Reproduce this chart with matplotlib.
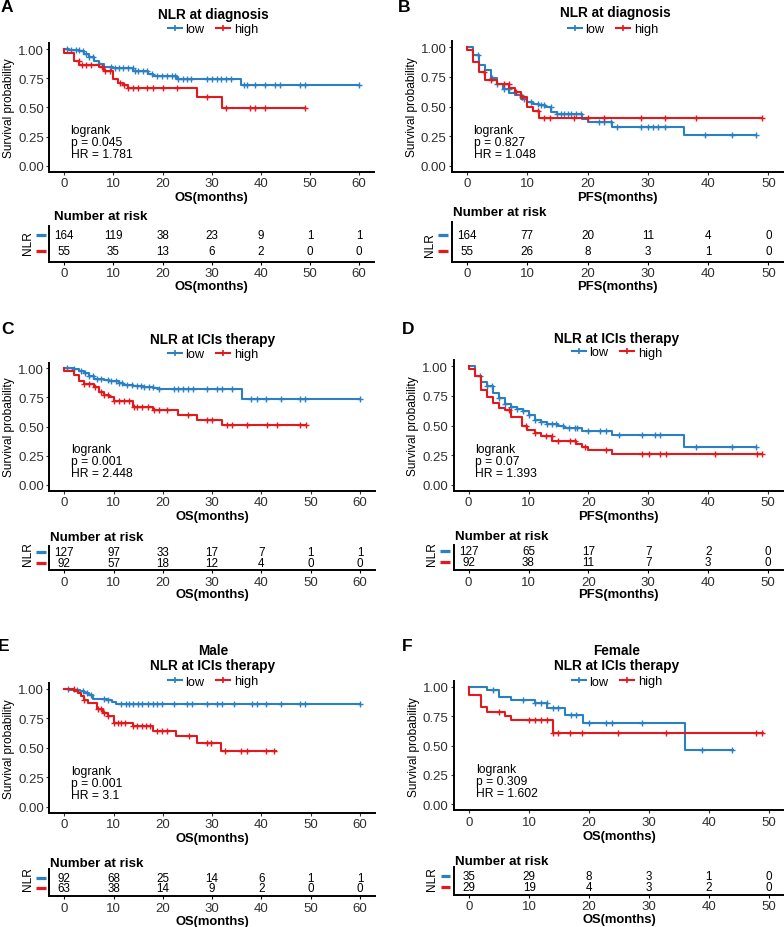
import numpy as np
import matplotlib
matplotlib.use("Agg")
from matplotlib import pyplot as plt
from matplotlib.lines import Line2D

plt.rcParams.update({'font.family': ['Liberation Sans', 'DejaVu Sans'],
                     'font.size': 9,
                     'axes.linewidth': 1.4})

BLUE = '#2b80c3'
RED = '#e4191d'

# ---------------- data ----------------
# A: OS, NLR at diagnosis
A_low_t = [0, 1, 3, 4, 5, 6, 7, 8, 10, 14, 17, 18, 23, 36]
A_low_s = [1.0, 0.99, 0.98, 0.96, 0.93, 0.90, 0.87, 0.85, 0.84, 0.81, 0.79, 0.77, 0.74, 0.69]
A_low_end = 60
A_low_cens = [0.5, 1.4, 2.4, 2.9, 3.9, 4.4, 5.1, 5.8, 7.1, 9.6, 10.3, 11.2, 12.0, 12.9, 13.9,
              14.4, 15.1, 16.0, 16.9, 17.9, 18.9, 19.9, 20.8, 21.9, 22.5, 23.1, 24.1, 24.9,
              25.8, 29.0, 30.0, 31.0, 31.9, 32.9, 33.9, 36.5, 37.2, 38.8, 40.9, 42.9, 43.8,
              47.9, 48.9, 60]
A_high_t = [0, 0, 2, 3, 7, 8, 10, 11, 12, 13, 27, 32]
A_high_s = [1.0, 0.97, 0.90, 0.86, 0.85, 0.81, 0.74, 0.71, 0.69, 0.665, 0.59, 0.495]
A_high_end = 49
A_high_cens = [2.9, 3.7, 4.5, 5.4, 7.6, 8.3, 9.3, 11.3, 12.2, 13.0, 13.9, 14.9, 16.9, 18.0,
               20.0, 22.9, 29.0, 32.9, 37.8, 38.8, 40.9, 49]
A_low_risk = [164, 119, 38, 23, 9, 1, 1]
A_high_risk = [55, 35, 13, 6, 2, 0, 0]

# B: PFS, NLR at diagnosis
B_low_t = [0, 1, 2, 3, 4, 5, 6, 7, 8, 9, 10, 11, 12, 13, 14, 15, 19, 20, 24, 36]
B_low_s = [1.0, 0.935, 0.85, 0.81, 0.745, 0.69, 0.65, 0.615, 0.60, 0.565, 0.54, 0.52, 0.51,
           0.50, 0.45, 0.44, 0.395, 0.37, 0.325, 0.26]
B_low_end = 48
B_low_cens = [1.8, 4.1, 5.0, 6.1, 6.9, 8.9, 9.4, 10.6, 11.7, 12.2, 12.8, 13.9, 15.0, 15.6,
              16.1, 16.7, 17.2, 18.1, 18.9, 21.9, 22.8, 23.9, 24.9, 28.9, 30.0, 30.8, 31.7,
              32.8, 39.4, 44.0, 48]
B_high_t = [0, 0, 1, 2, 3, 5, 7, 8, 9, 10, 11, 12]
B_high_s = [1.0, 0.98, 0.88, 0.79, 0.72, 0.69, 0.66, 0.62, 0.58, 0.50, 0.46, 0.405]
B_high_end = 49
B_high_cens = [2.8, 3.9, 6.1, 6.9, 8.1, 9.1, 11.7, 12.8, 13.8, 17.8, 20.0, 22.8, 28.8, 32.9,
               37.9, 49]
B_low_risk = [164, 77, 20, 11, 4, 0]
B_high_risk = [55, 26, 8, 3, 1, 0]

# C: OS, NLR at ICIs therapy
C_low_t = [0, 2, 3, 4, 5, 6, 8, 9, 11, 12, 14, 16, 18, 19, 36]
C_low_s = [1.0, 0.99, 0.98, 0.96, 0.93, 0.91, 0.90, 0.89, 0.87, 0.86, 0.85, 0.84, 0.83, 0.82, 0.74]
C_low_end = 60
C_low_cens = [0.5, 2.0, 3.4, 4.2, 5.1, 5.9, 6.7, 7.4, 8.8, 9.4, 10.4, 11.1, 11.8, 12.7, 13.8,
              14.8, 15.5, 16.2, 17.2, 17.9, 19.2, 22.3, 23.1, 24.1, 25.2, 26.2, 29.0, 31.0,
              32.0, 34.0, 37.9, 39.0, 41.0, 44.0, 47.9, 48.9, 60]
C_high_t = [0, 0, 2, 3, 4, 6, 7, 8, 9, 10, 14, 18, 23, 27, 32]
C_high_s = [1.0, 0.98, 0.94, 0.895, 0.865, 0.84, 0.80, 0.77, 0.75, 0.72, 0.665, 0.64, 0.60,
            0.56, 0.51]
C_high_end = 49
C_high_cens = [4.0, 5.1, 6.2, 7.4, 8.1, 8.9, 10.1, 11.1, 12.1, 13.1, 14.2, 14.8, 15.8, 16.9,
               18.2, 19.2, 20.9, 25.1, 29.0, 30.0, 33.0, 34.0, 37.0, 41.2, 43.1, 47.9, 49]
C_low_risk = [127, 97, 33, 17, 7, 1, 1]
C_high_risk = [92, 57, 18, 12, 4, 0, 0]

# D: PFS, NLR at ICIs therapy
D_low_t = [0, 1, 2, 3, 4, 5, 6, 7, 8, 9, 10, 11, 12, 13, 15, 16, 19, 24, 36]
D_low_s = [1.0, 0.92, 0.865, 0.83, 0.775, 0.73, 0.68, 0.66, 0.64, 0.62, 0.585, 0.55, 0.53,
           0.515, 0.50, 0.48, 0.455, 0.42, 0.315]
D_low_end = 48
D_low_cens = [1.9, 3.1, 3.9, 5.1, 6.0, 7.0, 8.1, 9.1, 10.1, 11.1, 12.1, 13.1, 13.9, 14.6,
              15.7, 16.7, 17.7, 18.1, 20.0, 22.0, 23.0, 25.1, 29.0, 31.2, 32.0, 38.0, 44.0, 48]
D_high_t = [0, 0, 1, 2, 3, 4, 5, 6, 7, 8.9, 9.7, 11, 12, 14, 18, 19, 20, 24]
D_high_s = [1.0, 0.98, 0.915, 0.80, 0.74, 0.69, 0.65, 0.63, 0.57, 0.50, 0.465, 0.44, 0.415,
            0.37, 0.345, 0.315, 0.29, 0.26]
D_high_end = 49
D_high_cens = [6.8, 9.5, 11.0, 12.9, 13.9, 14.9, 17.0, 17.8, 19.4, 22.9, 29.0, 30.1, 32.0,
               33.0, 41.1, 48.1, 49]
D_low_risk = [127, 65, 17, 7, 2, 0]
D_high_risk = [92, 38, 11, 7, 3, 0]

# E: OS, male
E_low_t = [0, 1, 3.2, 4, 5.1, 5.9, 8.6, 9.6, 10.5]
E_low_s = [1.0, 0.99, 0.98, 0.963, 0.945, 0.91, 0.90, 0.89, 0.868]
E_low_end = 60
E_low_cens = [0.7, 2.6, 3.7, 4.7, 5.4, 8.1, 8.9, 11.5, 12.5, 13.2, 14.0, 15.0, 15.8, 16.9,
              17.9, 18.9, 19.9, 22.2, 24.9, 25.9, 29.0, 31.0, 32.0, 34.4, 38.1, 39.2, 41.0,
              44.0, 47.9, 48.9, 60]
E_high_t = [0, 2, 2.8, 3.4, 3.9, 4.9, 6.7, 7.8, 8.8, 10, 14, 17.9, 22.7, 27, 31.8]
E_high_s = [1.0, 0.98, 0.96, 0.935, 0.90, 0.875, 0.83, 0.79, 0.765, 0.705, 0.685, 0.645,
            0.595, 0.54, 0.47]
E_high_end = 43
E_high_cens = [1.9, 3.9, 6.9, 7.4, 8.1, 8.9, 10.0, 10.8, 11.5, 12.3, 14.0, 14.8, 15.7, 16.6,
               17.4, 18.9, 19.9, 20.9, 25.3, 29.0, 29.7, 32.7, 35.9, 37.0, 41.0, 42.6]
E_low_risk = [92, 68, 25, 14, 6, 1, 1]
E_high_risk = [63, 38, 14, 9, 2, 0, 0]

# F: OS, female
F_low_t = [0, 3, 5, 7, 11, 13, 16, 19, 36]
F_low_s = [1.0, 0.975, 0.915, 0.89, 0.86, 0.82, 0.765, 0.69, 0.46]
F_low_end = 44
F_low_cens = [4.0, 9.0, 11.0, 11.9, 12.9, 14.0, 14.9, 17.0, 17.9, 20.0, 22.9, 23.8, 28.8,
              38.9, 43.9]
F_high_t = [0, 0, 2, 3, 6, 7, 14]
F_high_s = [1.0, 0.93, 0.83, 0.79, 0.755, 0.72, 0.61]
F_high_end = 49
F_high_cens = [5.0, 9.9, 10.9, 11.9, 12.9, 14.0, 14.8, 16.9, 18.9, 24.9, 32.9, 47.9, 48.9]
F_low_risk = [35, 29, 8, 3, 1, 0]
F_high_risk = [29, 19, 4, 3, 2, 0]

panel_letters = ['A', 'B', 'C', 'D', 'E', 'F']
titles = ['NLR at diagnosis', 'NLR at diagnosis', 'NLR at ICIs therapy',
          'NLR at ICIs therapy', 'Male\nNLR at ICIs therapy', 'Female\nNLR at ICIs therapy']
xlabels = ['OS(months)', 'PFS(months)', 'OS(months)', 'PFS(months)', 'OS(months)', 'OS(months)']
xmax = [60, 50, 60, 50, 60, 50]
pvals = ['0.045', '0.827', '0.001', '0.07', '0.001', '0.309']
hrs = ['1.781', '1.048', '2.448', '1.393', '3.1', '1.602']

curves = {
    'A': [(A_low_t, A_low_s, A_low_end, A_low_cens), (A_high_t, A_high_s, A_high_end, A_high_cens)],
    'B': [(B_low_t, B_low_s, B_low_end, B_low_cens), (B_high_t, B_high_s, B_high_end, B_high_cens)],
    'C': [(C_low_t, C_low_s, C_low_end, C_low_cens), (C_high_t, C_high_s, C_high_end, C_high_cens)],
    'D': [(D_low_t, D_low_s, D_low_end, D_low_cens), (D_high_t, D_high_s, D_high_end, D_high_cens)],
    'E': [(E_low_t, E_low_s, E_low_end, E_low_cens), (E_high_t, E_high_s, E_high_end, E_high_cens)],
    'F': [(F_low_t, F_low_s, F_low_end, F_low_cens), (F_high_t, F_high_s, F_high_end, F_high_cens)],
}
risks = {'A': (A_low_risk, A_high_risk), 'B': (B_low_risk, B_high_risk),
         'C': (C_low_risk, C_high_risk), 'D': (D_low_risk, D_high_risk),
         'E': (E_low_risk, E_high_risk), 'F': (F_low_risk, F_high_risk)}

# ---------------- layout (pixels) ----------------
W, H = 784, 928
# main axes: left, top, right, bottom
main_box = [(49.5, 44.2, 374, 172.5), (452, 42.4, 783.5, 172.6),
            (49.5, 363.5, 374.8, 491.5), (453.7, 361.4, 783, 491.6),
            (49.5, 683.8, 374.8, 813.5), (454.3, 682.1, 783.6, 811.2)]
# risk table: top, bottom, ylim
table_box = [(226.7, 262.7, (0.30, 2.59)), (223, 262.7, (0.33, 2.81)),
             (547.3, 571, (0.38, 2.48)), (546, 571, (0.34, 2.49)),
             (870, 897.3, (0.22, 2.87)), (868, 895.7, (0.36, 2.75))]
letter_pos = [(7, 8), (404, 8), (7, 329), (408, 330), (4, 647), (407, 647)]
title_pos = [(213, 15), (615, 13.5), (213, 340), (617, 339), (213, 658.5), (617, 658.5)]
legend_pos = [(213, 30), (613, 30), (213, 355), (617, 353.5), (213, 682.5), (617, 682.5)]
nrisk_pos = [(54, 217.3), (453, 213.3), (50, 538.3), (454.7, 537), (50, 864), (454.7, 861.7)]
nlr_pos = [(28.5, 243), (429.5, 245), (28.5, 554), (431.5, 554), (28.5, 879), (432, 879)]


def px_axes(l, t, r, b):
    return fig.add_axes([l / W, 1 - b / H, (r - l) / W, (b - t) / H])


def ftext(x, y, s, **kw):
    fig.text(x / W, 1 - y / H, s, **kw)


fig = plt.figure(figsize=(W / 100, H / 100), dpi=100)

for i, key in enumerate(panel_letters):
    xm = xmax[i]
    ticks = np.arange(0, xm + 1, 10)

    # ---- survival curves ----
    ax = px_axes(*main_box[i])
    for (t, s, end, cens), col in zip(curves[key], [BLUE, RED]):
        x = list(t) + [end]
        y = list(s) + [s[-1]]
        ax.step(x, y, where='post', color=col, lw=1.5)
        c = np.array(cens)
        idx = np.searchsorted(np.array(t), c, side='right') - 1
        ax.plot(c, np.array(s)[idx], ls='none', marker='+', ms=5, mew=1.0, color=col)
    ax.set_xlim(-0.05 * xm, 1.05 * xm)
    ax.set_ylim(-0.05, 1.05)
    ax.set_xticks(ticks)
    ax.set_yticks([0, 0.25, 0.5, 0.75, 1.0])
    ax.set_yticklabels(['0.00', '0.25', '0.50', '0.75', '1.00'])
    for side in ['top', 'right']:
        ax.spines[side].set_visible(False)
    ax.tick_params(length=2.5, width=0.8, pad=1.5, labelsize=9.5, colors='#333333',
                   labelcolor='#303030')
    ax.set_xlabel(xlabels[i], fontsize=9.4, fontweight='bold', labelpad=1.5)
    ax.set_ylabel('Survival probability', fontsize=8.6, labelpad=2)
    ax.text(0.065, 0.2, 'logrank\np = %s\nHR = %s' % (pvals[i], hrs[i]),
            transform=ax.get_yaxis_transform(), fontsize=8.7, va='center', ha='left',
            linespacing=1.0)

    # ---- risk table ----
    tt, tb, yl = table_box[i]
    l, _, r, _ = main_box[i]
    rax = px_axes(l, tt, r, tb)
    low, high = risks[key]
    for xv, n in zip(ticks, low):
        rax.text(xv, 2, str(n), ha='center', va='center', fontsize=8.4)
    for xv, n in zip(ticks, high):
        rax.text(xv, 1, str(n), ha='center', va='center', fontsize=8.4)
    rax.set_xlim(-0.05 * xm, 1.05 * xm)
    rax.set_ylim(*yl)
    rax.set_xticks(ticks)
    rax.set_yticks([])
    for side in ['top', 'right']:
        rax.spines[side].set_visible(False)
    rax.tick_params(length=2.5, width=0.8, pad=1.5, labelsize=9.5, labelcolor='#303030')
    rax.set_xlabel(xlabels[i], fontsize=9.4, fontweight='bold', labelpad=0.5)
    for yv, col in [(2, BLUE), (1, RED)]:
        rax.plot([-0.041, -0.012], [yv, yv], transform=rax.get_yaxis_transform(),
                 color=col, lw=2.3, clip_on=False, solid_capstyle='butt')

    # ---- figure texts ----
    ftext(*letter_pos[i], key, fontsize=12.5, fontweight='bold', ha='center', va='center')
    ftext(*title_pos[i], titles[i], fontsize=9.8, fontweight='bold', ha='center',
          va='center', linespacing=1.1)
    ftext(*nrisk_pos[i], 'Number at risk', fontsize=9.6, fontweight='bold', ha='left',
          va='center')
    ftext(*nlr_pos[i], 'NLR', fontsize=8.6, rotation=90, ha='center', va='center')
    handles = [Line2D([], [], color=BLUE, marker='+', ms=5, mew=1.2, lw=1.5),
               Line2D([], [], color=RED, marker='+', ms=5, mew=1.2, lw=1.5)]
    lx, ly = legend_pos[i]
    fig.legend(handles, ['low', 'high'], loc='center', ncol=2,
               bbox_to_anchor=(lx / W, 1 - ly / H), frameon=False, fontsize=9.2,
               handlelength=1.1, handletextpad=0.3, columnspacing=0.9, borderpad=0)

fig.savefig('out.png', dpi=100)
